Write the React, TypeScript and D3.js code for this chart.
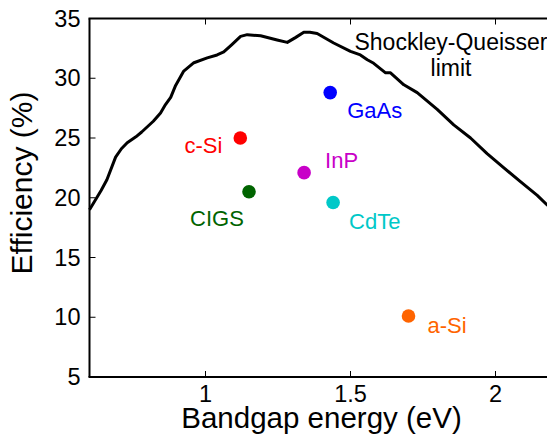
import React from "react";
import * as d3 from "d3";

// Shockley-Queisser limit curve (bandgap eV, efficiency %)
const sqBandgap = [0.6, 0.64, 0.66, 0.69, 0.71, 0.73, 0.76, 0.78, 0.82, 0.845, 0.862, 0.88, 0.897, 0.925, 0.96, 1.006, 1.04, 1.063, 1.09, 1.121, 1.144, 1.19, 1.247, 1.282, 1.31, 1.339, 1.36, 1.385, 1.442, 1.5, 1.534, 1.558, 1.58, 1.621, 1.638, 1.684, 1.73, 1.799, 1.856, 1.914, 1.971, 2.029, 2.086, 2.144, 2.178, 2.2];
const sqEfficiency = [19.0, 20.6, 21.5, 23.4, 24.1, 24.6, 25.1, 25.5, 26.4, 27.1, 27.8, 28.4, 29.4, 30.6, 31.3, 31.7, 31.95, 32.2, 32.8, 33.5, 33.65, 33.55, 33.2, 33.0, 33.4, 33.85, 33.85, 33.75, 32.95, 32.25, 31.95, 31.55, 31.25, 30.45, 30.45, 29.45, 28.8, 27.4, 26.1, 25.0, 23.7, 22.5, 21.35, 20.2, 19.4, 19.0];

// Record cells
const materials = ["GaAs", "InP", "CdTe", "c-Si", "CIGS", "a-Si"];
const bandgaps = [1.43, 1.34, 1.44, 1.12, 1.15, 1.7];
const efficiencies = [28.8, 22.1, 19.6, 25.0, 20.5, 10.1];
const colors = ["#0000ff", "#c800c8", "#00c8c8", "#ff0000", "#006400", "#ff6400"];

// Label placement relative to dot (px) and anchor
const labelDx = [17, 21, 16, -18, -32, 19];
const labelDy = [25, -5, 26, 15, 34, 17];
const labelAnchor = ["start", "start", "start", "end", "middle", "start"];

const xTicks = [1, 1.5, 2];
const yTicks = [5, 10, 15, 20, 25, 30, 35];

const FONT = "'Liberation Sans', Arial, Helvetica, sans-serif";

export default function App() {
  const W = 547;
  const H = 444;
  const x = d3.scaleLinear().domain([0.6, 2.2]).range([89.5, 553.5]);
  const y = d3.scaleLinear().domain([5, 35]).range([377, 18.5]);
  const [x0, x1] = x.range();
  const [yb, yt] = y.range();

  const line = d3
    .line<number>()
    .x((_, i) => x(sqBandgap[i]))
    .y((d) => y(d))
    .curve(d3.curveLinear);

  return (
    <svg
      width={W}
      height={H}
      style={{ position: "absolute", left: 0, top: 0, background: "#fff" }}
      fontFamily={FONT}
    >
      <rect x={0} y={0} width={W} height={H} fill="#fff" />
      {/* curve */}
      <path d={line(sqEfficiency) || ""} fill="none" stroke="#000" strokeWidth={3} strokeLinejoin="round" />

      {/* frame */}
      <line x1={x0} x2={x0} y1={yt} y2={yb} stroke="#000" strokeWidth={2} />
      <line x1={x0 - 1} x2={x1} y1={yb} y2={yb} stroke="#000" strokeWidth={2} />
      <line x1={x0 - 1} x2={x1} y1={yt} y2={yt} stroke="#000" strokeWidth={2} />
      <line x1={x1} x2={x1} y1={yt} y2={yb} stroke="#000" strokeWidth={2} />

      {/* x ticks */}
      {xTicks.map((t) => (
        <g key={"xt" + t}>
          <line x1={x(t)} x2={x(t)} y1={yb} y2={yb - 6} stroke="#000" strokeWidth={1} />
          <line x1={x(t)} x2={x(t)} y1={yt} y2={yt + 6} stroke="#000" strokeWidth={1} />
          <text x={x(t)} y={yb + 25} textAnchor="middle" fontSize={23.5} fill="#000">
            {String(t)}
          </text>
        </g>
      ))}

      {/* y ticks */}
      {yTicks.map((t) => (
        <g key={"yt" + t}>
          <line x1={x0} x2={x0 + 6} y1={y(t)} y2={y(t)} stroke="#000" strokeWidth={1} />
          <text x={x0 - 9} y={y(t)} dy="0.35em" textAnchor="end" fontSize={23.5} fill="#000">
            {String(t)}
          </text>
        </g>
      ))}

      {/* axis labels */}
      <text x={(x0 + x1) / 2} y={428} textAnchor="middle" fontSize={29.5} fill="#000">
        Bandgap energy (eV)
      </text>
      <text
        transform={`translate(32, 183) rotate(-90)`}
        textAnchor="middle"
        fontSize={30}
        fill="#000"
      >
        Efficiency (%)
      </text>

      {/* SQ label */}
      <text x={451} y={50} textAnchor="middle" fontSize={23} fill="#000">
        Shockley-Queisser
      </text>
      <text x={451} y={76} textAnchor="middle" fontSize={23} fill="#000">
        limit
      </text>

      {/* points */}
      {materials.map((m, i) => (
        <g key={m}>
          <circle cx={x(bandgaps[i])} cy={y(efficiencies[i])} r={6.8} fill={colors[i]} />
          <text
            x={x(bandgaps[i]) + labelDx[i]}
            y={y(efficiencies[i]) + labelDy[i]}
            textAnchor={labelAnchor[i] as any}
            fontSize={22}
            fill={colors[i]}
          >
            {m}
          </text>
        </g>
      ))}
    </svg>
  );
}
